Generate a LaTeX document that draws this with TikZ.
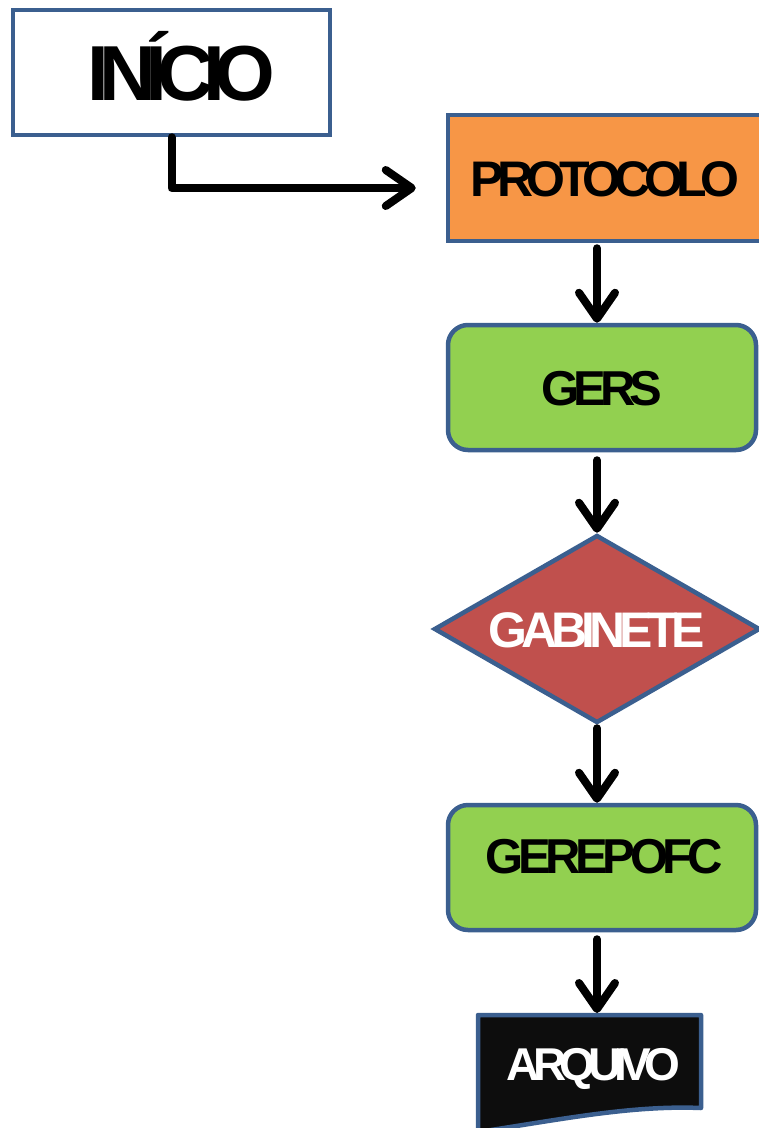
\documentclass[tikz,border=0pt]{standalone}
\usepackage{fontspec}
\setmainfont{Liberation Sans}
\usetikzlibrary{arrows.meta,shapes.geometric,calc}
\definecolor{edge}{HTML}{3B5F8F}
\definecolor{orangefill}{HTML}{F79646}
\definecolor{greenfill}{HTML}{92D050}
\definecolor{redfill}{HTML}{C0504D}
\definecolor{docfill}{HTML}{0D0D0D}
% tight bold caps used for every label: size, letter spacing
\newcommand{\capsfont}[2]{\fontsize{#1}{#1}\selectfont\bfseries\addfontfeature{LetterSpace=#2}}
\begin{document}
\begin{tikzpicture}[x=1pt,y=-1pt,
  shapebox/.style={draw=edge, line width=4.5pt, inner sep=0pt, anchor=center, text depth=0pt},
  flow/.style={line width=8pt, line cap=round, line join=round,
    -{Straight Barb[length=26pt,width=36pt,round]},
    preaction={draw=black!30, opacity=0.5, transform canvas={shift={(1.5pt,-2.5pt)}}}}]
\useasboundingbox (0,0) rectangle (759,1128);
\clip (0,0) rectangle (759,1128);

% start box
\node[shapebox, fill=white, minimum width=317pt, minimum height=125pt,
      text height=56pt, font=\capsfont{78}{-13}] (ini) at (171.5,72.5) {\hspace*{20pt}INÍCIO};

% process boxes
\node[shapebox, fill=orangefill, minimum width=314pt, minimum height=126pt,
      text height=36pt, font=\capsfont{50}{-13}] (prot) at (605,178) {PROTOCOLO};
\node[shapebox, fill=greenfill, rounded corners=20pt, minimum width=308pt, minimum height=125pt,
      text height=35pt, font=\capsfont{49}{-12}] (gers) at (602,387.5) {GERS};

% decision
\node[shapebox, diamond, aspect=1.72, fill=redfill, text=white, minimum width=326pt, minimum height=188pt,
      text height=36pt, font=\capsfont{50}{-12}] (gab) at (597,629) {GABINETE};

\node[shapebox, fill=greenfill, rounded corners=20pt, minimum width=308pt, minimum height=125pt,
      text height=35pt, text depth=24pt, font=\capsfont{49}{-11}] (gerep) at (602,867.5) {\hspace*{4pt}GEREPOFC};

% document shape with wavy lower edge
\node[inner sep=0pt, outer sep=0pt, minimum width=223pt, minimum height=93pt] (arqbox) at (589.5,1061.5) {};
\draw[draw=edge, line width=4.5pt, fill=docfill, line join=round]
  (arqbox.north west) -- (arqbox.north east) -- (arqbox.south east)
  .. controls +(-70,-3) and +(80,-12) .. ($(arqbox.south west)+(0,24)$) -- cycle;
\node[inner sep=0pt, text=white, text height=33pt, text depth=0pt, font=\capsfont{46}{-15}]
  (arq) at ($(arqbox.center)+(4,2)$) {ARQUIVO};

% connectors
\draw[flow] (ini.south) |- ($(prot.west)+(-30,10)$);
\draw[flow, shorten <=5pt] (prot.south -| gab.north) -- (gers.north -| gab.north);
\draw[flow, shorten <=8pt] (gers.south -| gab.north) -- (gab.north);
\draw[flow, shorten <=3pt] (gab.south) -- (gerep.north -| gab.south);
\draw[flow, shorten <=7pt, shorten >=2pt] (gerep.south -| gab.south) -- (arqbox.north -| gab.south);
\end{tikzpicture}
\end{document}
